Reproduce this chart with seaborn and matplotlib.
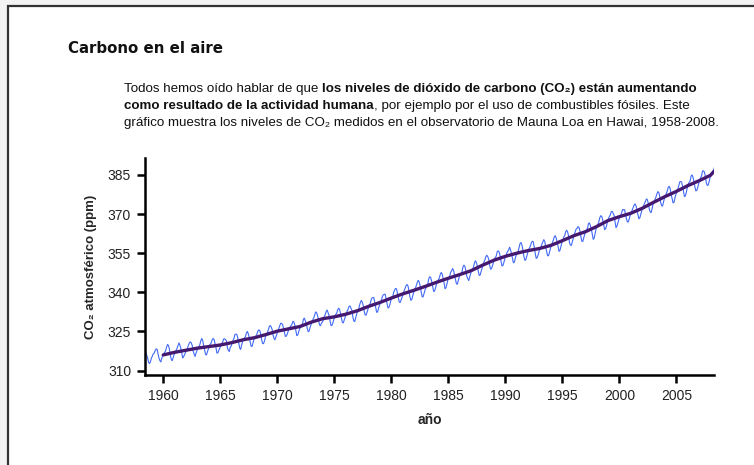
import numpy as np
import pandas as pd
import seaborn as sns
import matplotlib.pyplot as plt
import matplotlib.patches as mpatches

# Monthly CO2 at Mauna Loa (ppm); first year starts in March
first_year = 1958
co2_monthly = [
    [315.7, 317.5, 317.5, 317.1, 315.9, 314.9, 313.2, 312.7, 313.3, 314.7],
    [315.6, 316.4, 316.7, 317.7, 318.3, 318.2, 316.5, 314.8, 313.8, 313.3, 314.8, 315.6],
    [316.4, 317.0, 317.6, 319.0, 320.0, 319.6, 318.2, 315.9, 314.2, 313.8, 315.0, 316.2],
    [316.9, 317.7, 318.5, 319.5, 320.6, 319.8, 318.6, 316.8, 314.8, 315.4, 316.1, 317.0],
    [317.9, 318.6, 319.7, 320.6, 321.0, 320.6, 319.6, 317.4, 316.3, 315.4, 316.7, 317.7],
    [318.7, 319.1, 319.9, 321.4, 322.3, 321.5, 319.7, 317.8, 316.2, 316.0, 317.1, 318.3],
    [319.6, 320.1, 320.7, 321.8, 322.3, 321.9, 320.4, 318.7, 316.7, 316.8, 317.8, 318.7],
    [319.4, 320.4, 320.9, 322.1, 322.2, 321.9, 321.4, 318.8, 317.8, 317.3, 318.9, 319.4],
    [320.6, 321.6, 322.4, 323.9, 324.0, 323.8, 322.4, 320.4, 318.6, 318.1, 319.8, 321.1],
    [322.1, 322.5, 323.0, 324.4, 325.0, 324.1, 322.6, 320.9, 319.3, 319.3, 320.7, 322.0],
    [322.6, 323.2, 323.9, 325.0, 325.6, 325.4, 324.1, 322.0, 320.4, 320.3, 321.3, 322.8],
    [324.0, 324.4, 325.6, 326.7, 327.3, 326.8, 325.9, 323.7, 322.4, 321.8, 322.9, 324.1],
    [325.0, 326.0, 326.9, 328.1, 328.1, 327.7, 326.4, 324.7, 323.1, 323.2, 324.0, 325.1],
    [326.2, 326.7, 327.2, 327.8, 328.9, 328.6, 327.3, 325.5, 323.4, 323.6, 324.8, 326.0],
    [326.8, 327.6, 327.8, 329.7, 330.1, 329.1, 328.1, 326.3, 324.9, 325.1, 326.5, 327.6],
    [328.5, 329.6, 330.3, 331.5, 332.5, 332.1, 330.9, 329.3, 327.5, 327.2, 328.2, 328.6],
    [329.4, 330.7, 331.5, 332.7, 333.2, 332.2, 331.1, 329.1, 327.3, 327.3, 328.3, 329.6],
    [330.7, 331.5, 331.9, 333.2, 333.9, 333.5, 332.0, 330.0, 328.5, 328.3, 329.4, 330.6],
    [331.6, 332.8, 333.5, 334.6, 334.8, 334.0, 333.1, 330.7, 329.0, 328.8, 330.2, 331.6],
    [332.7, 333.1, 335.0, 336.1, 336.9, 336.2, 334.9, 332.6, 331.3, 331.3, 332.4, 333.6],
    [335.0, 335.3, 336.7, 337.7, 338.0, 338.0, 336.4, 334.4, 332.4, 332.4, 333.8, 334.9],
    [336.1, 336.7, 338.3, 339.0, 339.2, 339.3, 337.5, 335.8, 334.0, 334.2, 335.3, 336.8],
    [337.9, 338.3, 340.0, 340.9, 341.5, 341.3, 339.4, 337.7, 336.2, 336.2, 337.3, 338.3],
    [339.3, 340.6, 341.6, 342.5, 343.0, 342.5, 340.8, 338.4, 337.0, 337.1, 338.6, 339.9],
    [341.0, 341.7, 342.8, 344.0, 344.6, 343.8, 342.3, 340.1, 338.3, 338.3, 339.6, 340.9],
    [341.7, 342.9, 343.3, 345.3, 346.0, 345.6, 344.2, 342.3, 340.4, 340.4, 341.6, 343.1],
    [344.1, 344.8, 345.5, 346.8, 347.6, 347.0, 345.5, 343.6, 341.4, 341.7, 343.1, 344.7],
    [345.2, 346.2, 347.7, 348.3, 349.1, 348.4, 346.7, 345.0, 343.3, 343.1, 344.5, 345.9],
    [346.6, 347.3, 348.0, 349.8, 350.4, 349.9, 348.2, 346.1, 345.2, 344.5, 345.9, 347.2],
    [348.5, 348.7, 349.7, 351.3, 352.1, 351.5, 350.1, 348.1, 346.5, 346.6, 348.0, 349.2],
    [350.4, 351.6, 352.4, 353.7, 354.2, 353.7, 352.7, 350.4, 348.9, 349.1, 350.2, 351.4],
    [352.9, 353.3, 354.0, 355.6, 355.9, 355.4, 354.0, 351.8, 350.1, 350.3, 351.5, 352.9],
    [353.8, 355.0, 355.7, 356.3, 357.3, 356.3, 354.8, 353.0, 351.3, 351.6, 353.1, 354.3],
    [354.8, 355.7, 357.2, 358.7, 359.1, 358.1, 356.2, 353.9, 352.3, 352.4, 353.8, 355.1],
    [356.3, 357.1, 357.9, 359.1, 359.6, 359.3, 357.0, 354.9, 353.0, 353.3, 354.3, 355.6],
    [357.0, 357.3, 358.5, 359.3, 360.2, 359.5, 357.3, 355.6, 354.0, 354.1, 355.4, 356.9],
    [358.2, 358.9, 360.0, 361.2, 361.7, 360.8, 359.4, 357.5, 355.7, 356.1, 357.5, 359.0],
    [359.9, 361.2, 361.8, 363.2, 363.8, 363.2, 361.7, 359.1, 358.1, 358.0, 359.4, 360.6],
    [362.0, 363.2, 364.2, 364.5, 365.2, 364.9, 363.5, 361.4, 359.6, 359.5, 360.9, 362.2],
    [363.1, 364.0, 364.5, 366.4, 366.6, 365.6, 364.3, 362.3, 360.3, 360.8, 362.5, 364.4],
    [365.3, 366.0, 367.2, 368.7, 369.4, 369.0, 367.8, 366.0, 364.0, 364.4, 365.5, 367.1],
    [368.2, 369.1, 369.7, 371.0, 371.0, 370.3, 369.5, 366.9, 364.8, 365.4, 366.7, 368.1],
    [369.3, 369.5, 370.6, 371.8, 371.6, 371.7, 369.9, 368.1, 367.0, 367.0, 368.4, 369.7],
    [370.6, 371.5, 372.4, 373.4, 373.9, 373.2, 371.5, 369.6, 368.2, 368.5, 369.8, 371.2],
    [372.5, 373.2, 374.1, 375.0, 375.8, 375.5, 374.0, 371.9, 370.8, 370.6, 372.3, 373.8],
    [374.9, 375.6, 376.5, 377.7, 378.6, 378.3, 376.7, 374.4, 373.2, 373.1, 374.7, 376.0],
    [377.0, 377.9, 378.9, 380.4, 380.6, 379.7, 377.5, 376.0, 374.3, 374.5, 376.2, 377.5],
    [378.5, 379.7, 380.8, 382.3, 382.5, 382.2, 380.7, 378.7, 376.7, 377.0, 378.4, 380.1],
    [381.4, 382.2, 382.7, 384.6, 385.0, 384.1, 382.5, 380.4, 378.9, 379.1, 380.2, 381.8],
    [382.9, 383.9, 384.6, 386.5, 386.6, 386.1, 384.5, 382.0, 381.0, 381.1, 382.5, 384.0],
    [385.5, 385.8, 386.0, 387.2, 388.5, 387.8, 386.4, 384.1],
]

# smoothed trend (purple line), value at the start of each year
trend_years = list(range(1960, 2009)) + [2008.3]
trend_vals = [316.0, 317.0, 317.8, 318.6, 319.2, 319.8, 320.7, 321.8, 322.6, 323.8,
              325.1, 326.0, 326.9, 328.6, 329.9, 330.6, 331.6, 332.9, 334.6, 336.1,
              337.8, 339.4, 340.8, 342.3, 343.9, 345.4, 346.8, 348.3, 350.4, 352.3,
              353.8, 355.0, 356.0, 356.8, 358.0, 359.8, 361.7, 363.2, 365.2, 367.5,
              369.0, 370.3, 372.2, 374.5, 376.7, 378.7, 380.9, 382.8, 384.9, 386.4]

x_ticks = [1960, 1965, 1970, 1975, 1980, 1985, 1990, 1995, 2000, 2005]
y_ticks = [310, 325, 340, 355, 370, 385]

rows = []
for i, vals in enumerate(co2_monthly):
    year = first_year + i
    m0 = 3 if i == 0 else 1
    for j, v in enumerate(vals):
        rows.append((year + (m0 + j - 0.5) / 12.0, v))
monthly = pd.DataFrame(rows, columns=['fecha', 'co2'])
trend = pd.DataFrame({'fecha': trend_years, 'co2': trend_vals})

sns.set_style('white')
plt.rcParams['font.family'] = ['Liberation Sans', 'DejaVu Sans']

fig = plt.figure(figsize=(7.54, 4.65), dpi=100)

# page frame (only top and left edges show)
fig.patches.append(mpatches.Rectangle((0, 0), 1, 1, transform=fig.transFigure,
                                      fc='#f3f3f3', ec='none', zorder=-3))
fig.patches.append(mpatches.Rectangle((7.5 / 754, -0.1), 1.2, 1.1 - 6 / 465, transform=fig.transFigure,
                                      fc='white', ec='#333333', lw=1.6, zorder=-2))

ax = fig.add_axes([145 / 754, 90 / 465, (714 - 145) / 754, (375 - 158) / 465])

sns.lineplot(data=monthly, x='fecha', y='co2', ax=ax, color='#4169f5', lw=0.8)
sns.lineplot(data=trend, x='fecha', y='co2', ax=ax, color='#45196f', lw=2.4)

ax.set_xlim(1958.4, 2008.3)
ax.set_ylim(308.3, 391.5)
ax.set_xticks(x_ticks)
ax.set_yticks(y_ticks)
ax.tick_params(axis='both', direction='out', length=6, width=1.8, color='black',
               labelsize=10, pad=4, left=True, bottom=True, labelcolor='#222222')
for s in ['top', 'right']:
    ax.spines[s].set_visible(False)
for s in ['left', 'bottom']:
    ax.spines[s].set_color('black')
    ax.spines[s].set_linewidth(1.8)
ax.set_xlabel('año', fontsize=10, fontweight='bold', labelpad=7)
ax.set_ylabel('CO₂ atmosférico (ppm)', fontsize=9.5, fontweight='bold', labelpad=8)

# title and paragraph
fig.text(68 / 754, 1 - 53 / 465, 'Carbono en el aire', fontsize=10.8, fontweight='bold',
         family='DejaVu Sans', va='baseline', color='#111111')

renderer = fig.canvas.get_renderer()
lines = [
    [('Todos hemos oído hablar de que ', 'normal'),
     ('los niveles de dióxido de carbono (CO₂) están aumentando', 'bold')],
    [('como resultado de la actividad humana', 'bold'),
     (', por ejemplo por el uso de combustibles fósiles. Este', 'normal')],
    [('gráfico muestra los niveles de CO₂ medidos en el observatorio de Mauna Loa en Hawai, 1958-2008.', 'normal')],
]
# fit the paragraph size so the last line spans ~596 px like the reference
probe = fig.text(0, 0, lines[2][0][0], fontsize=10)
fs = 10 * 596 / probe.get_window_extent(renderer).width
probe.remove()

baselines = [92, 109, 126]
for pieces, yb in zip(lines, baselines):
    xpix = 124
    for txt, w in pieces:
        t = fig.text(xpix / 754, 1 - yb / 465, txt, fontsize=fs, fontweight=w, va='baseline',
                     color='#111111')
        xpix += t.get_window_extent(renderer).width

fig.savefig('out.png', dpi=100)
